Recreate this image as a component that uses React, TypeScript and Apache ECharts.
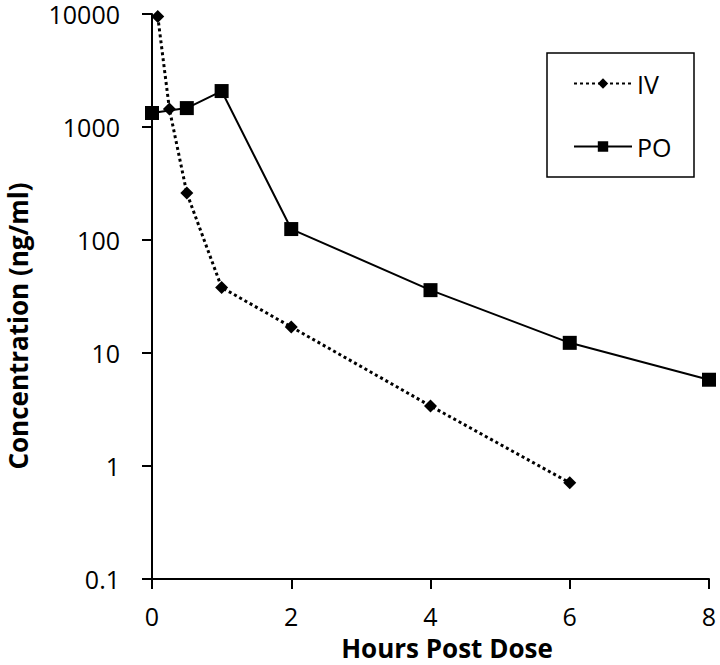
import React, { useEffect, useRef } from "react";
import * as echarts from "echarts";

const ivHours = [0.083, 0.25, 0.5, 1, 2, 4, 6];
const ivConc = [9500, 1440, 260, 38, 17, 3.4, 0.71];
const poHours = [0, 0.5, 1, 2, 4, 6, 8];
const poConc = [1330, 1470, 2080, 125, 36, 12.3, 5.8];
const xTicks = [0, 2, 4, 6, 8];
const yTickLabels = ["0.1", "1", "10", "100", "1000", "10000"];
const xTitle = "Hours Post Dose";
const yTitle = "Concentration (ng/ml)";

const FONT = "'Open Sans', 'Liberation Sans', sans-serif";

export default function App() {
  const ref = useRef<HTMLDivElement>(null);
  useEffect(() => {
    const chart = echarts.init(ref.current!, null, { renderer: "svg" });
    const fmtY = (v: number) => {
      const found = yTickLabels.find((t) => Math.abs(parseFloat(t) - v) / v < 1e-6);
      return found ?? "";
    };
    chart.setOption({
      animation: false,
      backgroundColor: "#ffffff",
      grid: { left: 152, right: 11, top: 14, bottom: 86, containLabel: false },
      xAxis: {
        type: "value",
        min: xTicks[0],
        max: xTicks[xTicks.length - 1],
        interval: 2,
        axisLine: { lineStyle: { color: "#000", width: 2 } },
        axisTick: { show: true, length: 10, lineStyle: { color: "#000", width: 2 } },
        axisLabel: { fontFamily: FONT, fontSize: 25, color: "#000", margin: 26, lineHeight: 22 },
        splitLine: { show: false },
      },
      yAxis: {
        type: "log",
        logBase: 10,
        min: 0.1,
        max: 10000,
        axisLine: { show: true, lineStyle: { color: "#000", width: 2 } },
        axisTick: { show: true, length: 10, lineStyle: { color: "#000", width: 2 } },
        axisLabel: { fontFamily: FONT, fontSize: 25, color: "#000", margin: 32, lineHeight: 20, formatter: fmtY },
        splitLine: { show: false },
        minorTick: { show: false },
      },
      legend: {
        orient: "vertical",
        left: 568,
        top: 66,
        itemWidth: 58,
        itemHeight: 13,
        itemGap: 38,
        textStyle: { fontFamily: FONT, fontSize: 25, color: "#000" },
        data: ["IV", "PO"],
      },
      graphic: [
        {
          type: "rect",
          shape: { x: 547, y: 53, width: 147, height: 124 },
          style: { fill: "none", stroke: "#000", lineWidth: 1.5 },
          z: 0,
        },
        {
          type: "text",
          x: 447,
          y: 648,
          style: {
            text: xTitle,
            font: `bold 26px ${FONT}`,
            fill: "#000",
            align: "center",
            verticalAlign: "middle",
          },
        },
        {
          type: "text",
          x: 18,
          y: 326,
          rotation: Math.PI / 2,
          style: {
            text: yTitle,
            font: `bold 26px ${FONT}`,
            fill: "#000",
            align: "center",
            verticalAlign: "middle",
          },
        },
      ],
      series: [
        {
          name: "IV",
          type: "line",
          data: ivHours.map((h, i) => [h, ivConc[i]]),
          symbol: "diamond",
          symbolSize: 13,
          itemStyle: { color: "#000" },
          lineStyle: { color: "#000", width: 3, type: [3, 3], cap: "butt" },
          z: 3,
        },
        {
          name: "PO",
          type: "line",
          data: poHours.map((h, i) => [h, poConc[i]]),
          symbol: "rect",
          symbolSize: 14,
          itemStyle: { color: "#000" },
          lineStyle: { color: "#000", width: 2 },
          z: 2,
        },
      ],
    });
    return () => chart.dispose();
  }, []);
  return (
    <div
      ref={ref}
      style={{ position: "fixed", left: 0, top: 0, width: 720, height: 665 }}
    />
  );
}
